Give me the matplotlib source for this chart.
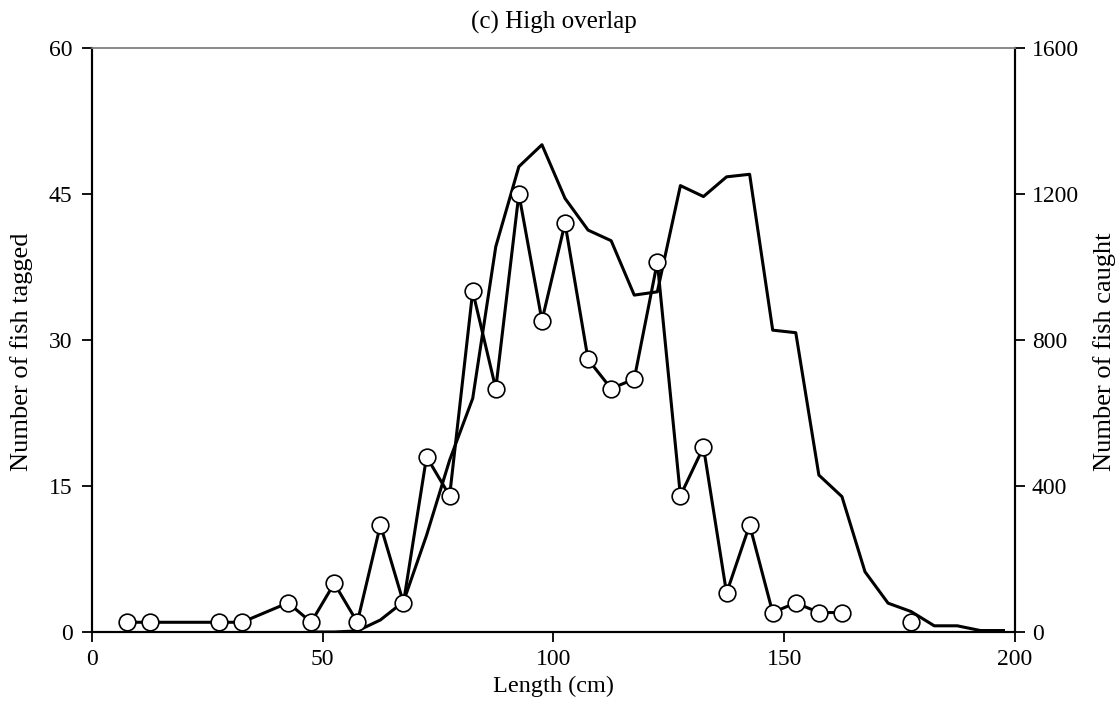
import numpy as np
import matplotlib
matplotlib.use("Agg")
import matplotlib.pyplot as plt

plt.rcParams['font.family'] = ['Liberation Serif', 'DejaVu Serif']

# Number of fish tagged (left axis), NaN marks the gap in the series
tag_len = [7.5, 12.5, 27.5, 32.5, 42.5, 47.5, 52.5, 57.5, 62.5, 67.5, 72.5, 77.5,
           82.5, 87.5, 92.5, 97.5, 102.5, 107.5, 112.5, 117.5, 122.5, 127.5,
           132.5, 137.5, 142.5, 147.5, 152.5, 157.5, 162.5, 170.0, 177.5]
tagged = [1, 1, 1, 1, 3, 1, 5, 1, 11, 3, 18, 14,
          35, 25, 45, 32, 42, 28, 25, 26, 38, 14,
          19, 4, 11, 2, 3, 2, 2, np.nan, 1]

# Number of fish caught (right axis)
catch_len = [47.5, 52.5, 57.5, 62.5, 67.5, 72.5, 77.5, 82.5, 87.5, 92.5, 97.5,
             102.5, 107.5, 112.5, 117.5, 122.5, 127.5, 132.5, 137.5, 142.5,
             147.5, 152.5, 157.5, 162.5, 167.5, 172.5, 177.5, 182.5, 187.5,
             192.5, 197.5]
caught = [0, 0, 3, 33, 83, 265, 471, 640, 1056, 1275, 1335,
          1188, 1101, 1072, 923, 932, 1223, 1193, 1247, 1254,
          827, 820, 430, 371, 165, 79, 56, 17, 17,
          4, 4]

fig = plt.figure(figsize=(11.16, 7.11), dpi=100)
ax = fig.add_axes([0.0824, 0.1111, 0.8271, 0.8214])
ax2 = ax.twinx()

ax.plot(tag_len, tagged, color='black', lw=2.2, marker='o', ms=12,
        mfc='white', mec='black', mew=1.2, zorder=3)
ax2.plot(catch_len, caught, color='black', lw=2.2, zorder=2)

ax.set_xlim(0, 200)
ax.set_ylim(0, 60)
ax2.set_ylim(0, 1600)
ax.set_xticks([0, 50, 100, 150, 200])
ax.set_yticks([0, 15, 30, 45, 60])
ax2.set_yticks([0, 400, 800, 1200, 1600])

fs = 17
for a in (ax, ax2):
    a.tick_params(direction='out', length=7, width=1.3, labelsize=fs, pad=5)
    a.spines['top'].set_color('#888888')
    a.spines['top'].set_linewidth(1.2)
    for s in ('left', 'right', 'bottom'):
        a.spines[s].set_linewidth(1.5)
ax.tick_params(axis='y', pad=7)
ax.set_zorder(ax2.get_zorder() + 1)
ax.patch.set_visible(False)

ax.set_xlabel('Length (cm)', fontsize=17.5)
ax.xaxis.set_label_coords(0.5, -0.075)
ax.set_ylabel('Number of fish tagged', fontsize=19)
ax.yaxis.set_label_coords(-0.064, 0.48)
ax2.set_ylabel('Number of fish caught', fontsize=19)
ax2.yaxis.set_label_coords(1.084, 0.48)
ax.set_title('(c) High overlap', fontsize=18, pad=14)

fig.savefig('out.png', dpi=100)
